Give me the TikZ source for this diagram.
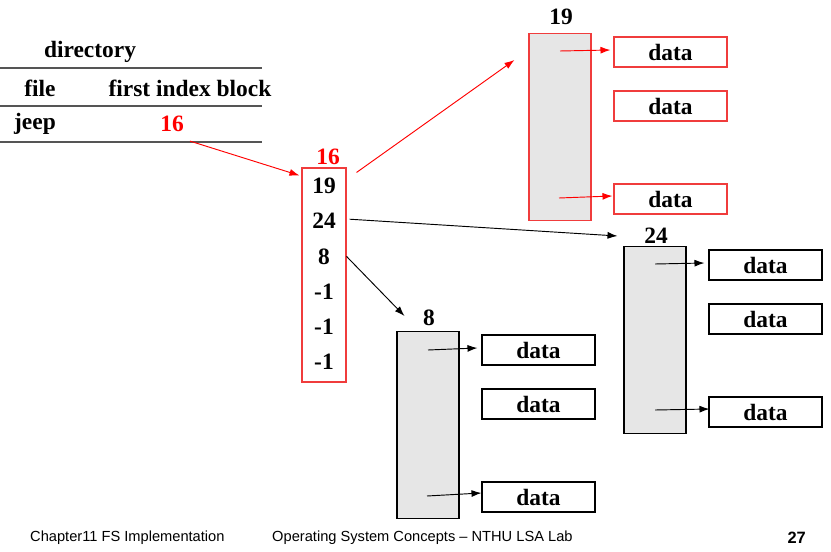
\documentclass[tikz,border=0pt]{standalone}
\usepackage{fontspec}
\setmainfont{Liberation Serif}
\newfontfamily\footfont{Liberation Sans}
\usepackage{tikz}
\usetikzlibrary{calc}
\usetikzlibrary{arrows.meta}
\tikzset{>={Latex[length=3mm,width=2.1mm]}}
\usepackage{xcolor}
\definecolor{blkgray}{HTML}{E6E6E6}
\definecolor{boxred}{HTML}{F03C3C}
\definecolor{rulegray}{HTML}{555555}
\tikzstyle{lbl}=[font=\bfseries\fontsize{20}{22}\selectfont,inner sep=0]
\tikzstyle{datab}=[lbl,line width=0.9pt,minimum width=33.9mm,minimum height=9mm]
\tikzstyle{blk}=[draw,fill=blkgray,line width=0.9pt,minimum width=18.6mm,minimum height=56.1mm,inner sep=0]
\tikzstyle{ptr}=[->,line width=0.8pt]

\begin{document}
\begin{tikzpicture}[x=0.3mm,y=-0.3mm]
  \useasboundingbox (0,0) rectangle (831,552);

  % directory
  \node[lbl] (dir) at (90,52) {directory};
  \node[lbl] (file) at (40,88) {file};
  \node[lbl] (first) at (190,88) {first index block};
  \node[lbl] (jeep) at (35,124) {jeep};
  \node[lbl,red] (f16) at (172,124) {16};
  \foreach \y in {68,106,142}
    \draw[rulegray,line width=1.3pt] (0,\y) -- (262,\y);

  % index block 16
  \node[draw=boxred,line width=0.9pt,minimum width=13.2mm,minimum height=64.2mm,inner sep=0] (idx) at (324,275) {};
  \node[lbl,red] (l16) at (328,157) {16};
  \foreach \v [count=\i] in {19,24,8,-1,-1,-1}
    \node[lbl] (e\i) at (324,186+35.2*\i-35.2) {\v};

  % blocks and data
  \foreach \n/\x/\y/\ly/\c in {19/560/33/17/boxred, 24/655/246/236/black, 8/428/331/318/black} {
    \node[blk,draw=\c,anchor=north] (b\n) at (\x,\y) {};
    \node[lbl] (l\n) at (\x+1,\ly) {\n};
    \foreach \k/\dy in {a/19,b/73,c/166}
      \node[datab,draw=\c] (d\n\k) at (\x+110.5,\y+\dy) {data};
  }
  \draw[ptr,red] ($(b19.north)+(0,18)$) -- ($(d19a.west)+(-3,-2)$);
  \draw[ptr,red] ($(b19.north)+(-1,165)$) -- ($(d19c.west)+(-1,-3)$);
  \draw[ptr] ($(b24.north)+(0,18)$) -- ($(d24a.west)+(-4,-2)$);
  \draw[ptr] ($(b24.north)+(0,164)$) -- ($(d24c.west)+(1,-3)$);
  \draw[ptr] ($(b8.north)+(0,19)$) -- ($(d8a.west)+(-4,-2)$);
  \draw[ptr] ($(b8.north)+(-1,165)$) -- ($(d8c.west)+(0,-4)$);

  % pointers
  \draw[ptr,red] ($(f16.south east)+(6,9)$) -- ($(idx.north west)+(-2,8)$);
  \draw[ptr,red] ($(idx.north east)+(10,5)$) -- ($(b19.north west)+(-14,27)$);
  \draw[ptr] ($(idx.east |- e2)+(3,-2)$) -- ($(b24.north west)+(-6,-10)$);
  \draw[ptr] (idx.east |- e3) -- ($(b8.north west)+(8,-15)$);

  % footer
  \node[font=\footfont\fontsize{12.5}{14}\selectfont,anchor=west,inner sep=0] (chap) at (30,538) {Chapter11 FS Implementation};
  \node[font=\footfont\fontsize{12.5}{14}\selectfont,anchor=west,inner sep=0] (osc) at (272,538) {Operating System Concepts – NTHU LSA Lab};
  \node[font=\footfont\bfseries\fontsize{14}{16}\selectfont,anchor=east,inner sep=0] (page) at (806,538) {27};
\end{tikzpicture}
\end{document}
